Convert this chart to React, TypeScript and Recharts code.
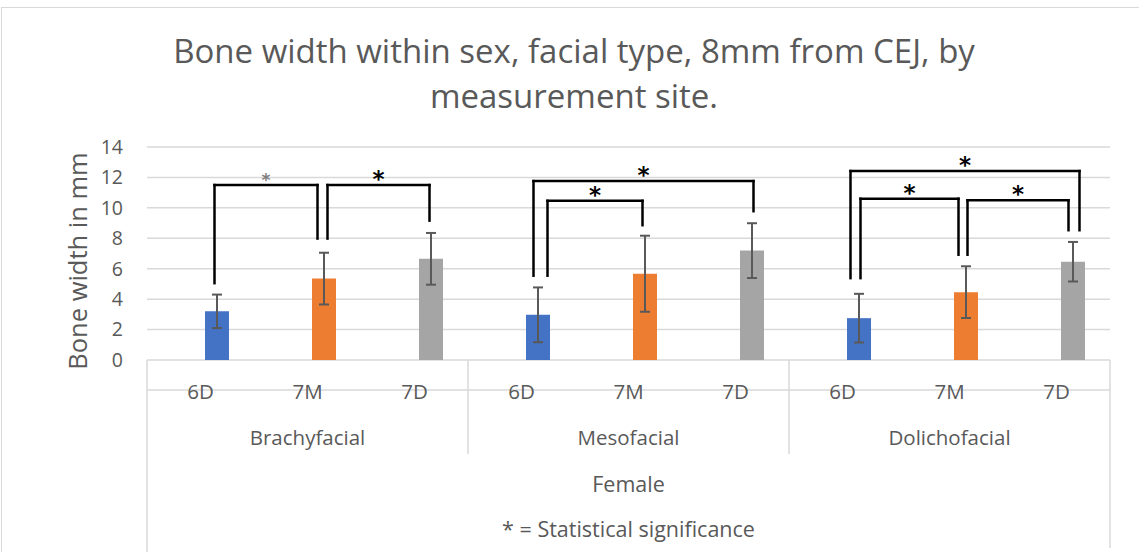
import React from 'react';
import { ComposedChart, Bar, Cell, ErrorBar, XAxis, YAxis, CartesianGrid, ReferenceLine } from 'recharts';

// ---- data ----
const SITES = ['6D', '7M', '7D'];
const GROUPS = ['Brachyfacial', 'Mesofacial', 'Dolichofacial'];
const SEX = 'Female';
const MEANS = [3.2, 5.35, 6.65, 2.97, 5.67, 7.19, 2.75, 4.46, 6.46];
const ERRORS = [1.1, 1.7, 1.7, 1.8, 2.5, 1.8, 1.6, 1.7, 1.3];
const Y_TICKS = [0, 2, 4, 6, 8, 10, 12, 14];
const TITLE_LINES = ['Bone width within sex, facial type, 8mm from CEJ, by', 'measurement site.'];
const Y_LABEL = 'Bone width in mm';
const FOOTNOTE = '* = Statistical significance';

// significance brackets (category indices and heights in mm)
const BRACKET_FROM = [0, 1, 3, 3, 6, 6, 7];
const BRACKET_TO = [1, 2, 5, 4, 8, 7, 8];
const BRACKET_TOP = [11.5, 11.5, 11.76, 10.46, 12.42, 10.6, 10.5];
const BRACKET_FROM_END = [5.05, 7.98, 5.54, 5.54, 5.38, 5.38, 6.92];
const BRACKET_TO_END = [7.98, 9.16, 9.78, 8.86, 8.53, 6.92, 8.53];

// ---- styles / layout ----
const W = 1139;
const H = 552;
const PLOT_LEFT = 147;
const PLOT_RIGHT = 1110;
const PLOT_TOP = 147;
const PLOT_BOTTOM = 360;
const PLOT_W = PLOT_RIGHT - PLOT_LEFT;
const BAND = PLOT_W / 9;
const BAR_SIZE = 24;
const BAR_GAP = 8;
const BAR_OFFSET = (BAR_SIZE + BAR_GAP) / 2;
const COLORS = ['#4472C4', '#ED7D31', '#A5A5A5'];
const TEXT = '#595959';
const GRID = '#d9d9d9';
const FONT = '"Open Sans", sans-serif';
const STAR_FONT = '"DejaVu Sans", sans-serif';
const LEG_FROM_SHIFT = [-2, 4, -4, 10, -8, 2, 2];
const LEG_TO_SHIFT = [-6, -1, 2, -2, 7, -7, -4];
const STAR_SMALL = [true, false, false, false, false, false, false];

const data = MEANS.map((m, i) => ({
  key: `${GROUPS[Math.floor(i / 3)]}|${SITES[i % 3]}`,
  pos: i + 0.5,
  mean: m,
  err: ERRORS[i],
}));

const legX = (idx: number, shift: number) => idx + 0.5 + (BAR_OFFSET + shift) / BAND;

const CategoryTick = (props: any) => {
  const { x, index, payload } = props;
  const [group, site] = String(payload.value).split('|');
  const els: any[] = [
    <text key="s" x={x} y={PLOT_BOTTOM + 39} textAnchor="middle" fill={TEXT} fontFamily={FONT} fontSize={20.5}>
      {site}
    </text>,
  ];
  if (index % 3 === 1) {
    els.push(
      <text key="t" x={x} y={PLOT_BOTTOM + 85} textAnchor="middle" fill={TEXT} fontFamily={FONT} fontSize={20.5}>
        {group}
      </text>
    );
  }
  if (index % 3 === 0) {
    const lx = x - BAND / 2;
    els.push(<line key="l" x1={lx} x2={lx} y1={PLOT_BOTTOM} y2={index === 0 ? H : PLOT_BOTTOM + 94} stroke={GRID} strokeWidth={1.5} />);
  }
  if (index === 8) {
    const rx = x + BAND / 2;
    els.push(<line key="r" x1={rx} x2={rx} y1={PLOT_BOTTOM} y2={H - 4} stroke={GRID} strokeWidth={1.5} />);
  }
  return <g>{els}</g>;
};

const StarLabel = (small: boolean) => (props: any) => {
  const vb = props.viewBox || {};
  const cx = vb.x + (vb.width || 0) / 2;
  return (
    <text
      x={cx}
      y={vb.y + (small ? 1 : 2)}
      textAnchor="middle"
      fill={small ? '#7f7f7f' : '#000'}
      fontFamily={STAR_FONT}
      fontWeight={small ? 700 : 700}
      fontSize={small ? 17 : 23}
    >
      *
    </text>
  );
};

export default function App() {
  const brackets = BRACKET_FROM.map((f, i) => {
    const x1 = legX(f, LEG_FROM_SHIFT[i]);
    const x2 = legX(BRACKET_TO[i], LEG_TO_SHIFT[i]);
    const top = BRACKET_TOP[i];
    const common = { xAxisId: 'num', stroke: '#000', strokeWidth: 2.5, strokeLinecap: 'square' as any, ifOverflow: 'visible' as any };
    return (
      <React.Fragment key={i}>
        <ReferenceLine {...common} segment={[{ x: x1, y: BRACKET_FROM_END[i] }, { x: x1, y: top }]} />
        <ReferenceLine {...common} segment={[{ x: x2, y: BRACKET_TO_END[i] }, { x: x2, y: top }]} />
        <ReferenceLine {...common} segment={[{ x: x1, y: top }, { x: x2, y: top }]} label={StarLabel(STAR_SMALL[i])} />
      </React.Fragment>
    );
  });

  return (
    <div style={{ position: 'absolute', left: 0, top: 0, width: W, height: H, overflow: 'hidden', background: '#fff' }}>
      <div style={{ position: 'absolute', left: 1, top: 7, width: W + 20, height: H + 20, border: `1.5px solid ${GRID}`, boxSizing: 'border-box' }} />
      <div style={{ position: 'absolute', left: 0, top: 0 }}>
        <ComposedChart
          width={W}
          height={H}
          data={data}
          margin={{ top: PLOT_TOP, right: W - PLOT_RIGHT, bottom: 92, left: 0 }}
          barGap={BAR_GAP}
        >
          <CartesianGrid vertical={false} stroke={GRID} strokeWidth={1.5} />
          <XAxis
            xAxisId="site"
            dataKey="key"
            height={100}
            interval={0}
            tickLine={false}
            axisLine={{ stroke: GRID, strokeWidth: 1.5 }}
            tick={<CategoryTick />}
          />
          <XAxis xAxisId="num" dataKey="pos" type="number" domain={[0, 9]} allowDataOverflow hide />
          <YAxis
            width={PLOT_LEFT}
            domain={[0, 14]}
            ticks={Y_TICKS}
            interval={0}
            axisLine={false}
            tickLine={false}
            tickMargin={18}
            tick={{ fill: TEXT, fontSize: 19.5, fontFamily: FONT }}
          />
          <Bar xAxisId="site" dataKey="spacer" barSize={BAR_SIZE} fill="none" isAnimationActive={false} />
          <Bar xAxisId="site" dataKey="mean" barSize={BAR_SIZE} isAnimationActive={false}>
            {data.map((d, i) => (
              <Cell key={i} fill={COLORS[i % 3]} />
            ))}
            <ErrorBar dataKey="err" direction="y" width={5} stroke={TEXT} strokeWidth={2} />
          </Bar>
          {brackets}
        </ComposedChart>
      </div>
      <svg width={W} height={H} style={{ position: 'absolute', left: 0, top: 0, pointerEvents: 'none' }}>
        <text x={574} y={63} textAnchor="middle" fill={TEXT} fontFamily={FONT} fontSize={33}>{TITLE_LINES[0]}</text>
        <text x={574} y={108} textAnchor="middle" fill={TEXT} fontFamily={FONT} fontSize={33}>{TITLE_LINES[1]}</text>
        <text transform="translate(87 261) rotate(-90)" textAnchor="middle" fill={TEXT} fontFamily={FONT} fontSize={25.5}>{Y_LABEL}</text>
        <text x={(PLOT_LEFT + PLOT_RIGHT) / 2} y={492} textAnchor="middle" fill={TEXT} fontFamily={FONT} fontSize={21.5}>{SEX}</text>
        <text x={(PLOT_LEFT + PLOT_RIGHT) / 2} y={537} textAnchor="middle" fill={TEXT} fontFamily={FONT} fontSize={21.5}>{FOOTNOTE}</text>
      </svg>
    </div>
  );
}
